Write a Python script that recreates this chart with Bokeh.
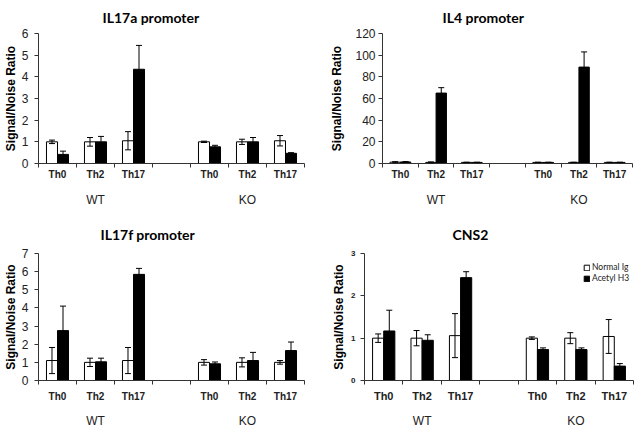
from bokeh.plotting import figure
from bokeh.models import (Range1d, FixedTicker, Whisker, TeeHead, LinearAxis,
                          ColumnDataSource, Legend, LegendItem)
from bokeh.layouts import row, column
from bokeh.embed import file_html
from bokeh.resources import INLINE

# ---------------- data ----------------
categories = ["Th0", "Th2", "Th17", "Th0", "Th2", "Th17"]
slots = [0, 1, 2, 4, 5, 6]
groups = ["WT", "KO"]
group_slots = [1, 5]
series_names = ["Normal Ig", "Acetyl H3"]
y_axis_title = "Signal/Noise Ratio"

il17a_normal = [1.0, 1.0, 1.05, 1.0, 1.0, 1.05]
il17a_normal_err = [0.08, 0.2, 0.42, 0.03, 0.12, 0.24]
il17a_acetyl = [0.42, 1.0, 4.35, 0.77, 1.0, 0.47]
il17a_acetyl_err = [0.15, 0.25, 1.1, 0.07, 0.2, 0.03]
il17a_ticks = [0, 1, 2, 3, 4, 5, 6]

il4_normal = [1.2, 1.0, 1.0, 1.0, 1.0, 1.0]
il4_normal_err = [0.5, 0.5, 0.2, 0.2, 0.2, 0.2]
il4_acetyl = [1.4, 65.0, 1.0, 1.0, 89.0, 1.0]
il4_acetyl_err = [0.4, 5.0, 0.2, 0.2, 14.0, 0.2]
il4_ticks = [0, 20, 40, 60, 80, 100, 120]

il17f_normal = [1.1, 1.0, 1.1, 1.0, 1.0, 1.0]
il17f_normal_err = [0.72, 0.23, 0.72, 0.15, 0.25, 0.1]
il17f_acetyl = [2.75, 1.03, 5.85, 0.92, 1.1, 1.65]
il17f_acetyl_err = [1.35, 0.2, 0.33, 0.1, 0.45, 0.47]
il17f_ticks = [0, 1, 2, 3, 4, 5, 6, 7]

cns2_normal = [1.0, 1.0, 1.06, 1.0, 1.0, 1.04]
cns2_normal_err = [0.1, 0.18, 0.52, 0.03, 0.13, 0.4]
cns2_acetyl = [1.17, 0.95, 2.43, 0.73, 0.73, 0.34]
cns2_acetyl_err = [0.49, 0.13, 0.14, 0.04, 0.04, 0.06]
cns2_ticks = [0, 1, 2, 3]

ARIAL = "Liberation Sans"
CALIBRI = "Lato"
AXIS_COLOR = "#333333"
TEXT_COLOR = "#222222"
BAR_W = 0.29


def make_panel(title, normal, normal_err, acetyl, acetyl_err, yticks,
               width, height, borders, title_offset, title_standoff,
               tick_font, tick_style, tick_standoff, ylab_standoff,
               cat_font, cat_standoff, grp_standoff,
               legend=False, legend_loc=None):
    bl, br, bt, bb = borders
    p = figure(width=width, height=height, output_backend="svg",
               toolbar_location=None, tools="", title=title,
               x_range=Range1d(0, 7), y_range=Range1d(yticks[0], yticks[-1]),
               min_border_left=bl, min_border_right=br,
               min_border_top=bt, min_border_bottom=bb)
    xa = p.xaxis[0]
    ya = p.yaxis[0]
    p.outline_line_color = None
    p.xgrid.visible = False
    p.ygrid.visible = False
    p.background_fill_color = "white"
    p.border_fill_color = "white"

    p.title.align = "left"
    p.title.vertical_align = "top"
    p.title.offset = title_offset
    p.title.standoff = title_standoff
    p.title.text_font = CALIBRI
    p.title.text_font_style = "bold"
    p.title.text_font_size = "14px"
    p.title.text_color = "black"

    centers = [s + 0.5 for s in slots]
    # x axis: category labels at slot centres, tick marks at slot boundaries
    xa.axis_label = None
    xa.ticker = FixedTicker(ticks=centers, minor_ticks=list(range(8)))
    xa.major_label_overrides = {c: cat for c, cat in zip(centers, categories)}
    xa.major_tick_out = 0
    xa.major_tick_in = 0
    xa.minor_tick_out = 4
    xa.minor_tick_in = 0
    xa.axis_line_color = AXIS_COLOR
    xa.minor_tick_line_color = AXIS_COLOR
    xa.major_label_text_font = ARIAL
    xa.major_label_text_font_style = "bold"
    xa.major_label_text_font_size = cat_font
    xa.major_label_text_color = TEXT_COLOR
    xa.major_label_standoff = cat_standoff

    # second x axis carrying the group labels
    gcent = [s + 0.5 for s in group_slots]
    ga = LinearAxis(ticker=FixedTicker(ticks=gcent), axis_label=None,
                    major_label_overrides={c: g for c, g in zip(gcent, groups)},
                    axis_line_color=None, major_tick_line_color=None,
                    minor_tick_line_color=None, major_tick_out=0,
                    major_label_text_font=ARIAL,
                    major_label_text_font_size="12px",
                    major_label_text_color=TEXT_COLOR,
                    major_label_standoff=grp_standoff)
    p.add_layout(ga, "below")

    ya.ticker = FixedTicker(ticks=yticks)
    ya.major_tick_out = 4
    ya.major_tick_in = 0
    ya.minor_tick_line_color = None
    ya.axis_line_color = AXIS_COLOR
    ya.major_tick_line_color = AXIS_COLOR
    ya.major_label_text_font = ARIAL
    ya.major_label_text_font_size = tick_font
    ya.major_label_text_font_style = tick_style
    ya.major_label_text_color = TEXT_COLOR
    ya.major_label_standoff = tick_standoff
    ya.axis_label = y_axis_title
    ya.axis_label_text_font = ARIAL
    ya.axis_label_text_font_style = "bold"
    ya.axis_label_text_font_size = "12px"
    ya.axis_label_text_color = "black"
    ya.axis_label_standoff = ylab_standoff

    xn = [s + 0.5 - BAR_W / 2 for s in slots]
    xb = [s + 0.5 + BAR_W / 2 for s in slots]
    src_n = ColumnDataSource(dict(x=xn, top=normal,
                                  lower=[v - e for v, e in zip(normal, normal_err)],
                                  upper=[v + e for v, e in zip(normal, normal_err)]))
    src_b = ColumnDataSource(dict(x=xb, top=acetyl,
                                  lower=[v - e for v, e in zip(acetyl, acetyl_err)],
                                  upper=[v + e for v, e in zip(acetyl, acetyl_err)]))
    rn = p.vbar(x="x", top="top", width=BAR_W, source=src_n,
                fill_color="white", line_color="black", line_width=1)
    rb = p.vbar(x="x", top="top", width=BAR_W, source=src_b,
                fill_color="black", line_color="black", line_width=1)
    for src in (src_n, src_b):
        w = Whisker(base="x", lower="lower", upper="upper", source=src,
                    line_color="black", line_width=1, level="annotation",
                    upper_head=TeeHead(size=6, line_color="black", line_width=1),
                    lower_head=TeeHead(size=6, line_color="black", line_width=1))
        p.add_layout(w)

    if legend:
        lg = Legend(items=[LegendItem(label=series_names[0], renderers=[rn]),
                           LegendItem(label=series_names[1], renderers=[rb])],
                    location=legend_loc, orientation="vertical",
                    glyph_width=7, glyph_height=7, label_height=7,
                    label_standoff=2, spacing=1, padding=0, margin=0,
                    border_line_color=None, background_fill_alpha=0,
                    label_text_font=CALIBRI, label_text_font_size="8.5px",
                    label_text_color=TEXT_COLOR)
        p.add_layout(lg)
    return p


p1 = make_panel("IL17a promoter", il17a_normal, il17a_normal_err,
                il17a_acetyl, il17a_acetyl_err, il17a_ticks,
                320, 215, (38, 16, 33, 52), 64, 12,
                "12px", "normal", 6, 1, "10px", 1, 10)
p2 = make_panel("IL4 promoter", il4_normal, il4_normal_err,
                il4_acetyl, il4_acetyl_err, il4_ticks,
                319, 215, (62, 7, 33, 52), 60, 12,
                "12px", "normal", 3, 8, "10px", 1, 10)
p3 = make_panel("IL17f promoter", il17f_normal, il17f_normal_err,
                il17f_acetyl, il17f_acetyl_err, il17f_ticks,
                320, 215, (38, 16, 38, 46), 62, 17,
                "12px", "normal", 6, 1, "10px", 6, 9)
p4 = make_panel("CNS2", cns2_normal, cns2_normal_err,
                cns2_acetyl, cns2_acetyl_err, cns2_ticks,
                319, 215, (44, 6, 38, 46), 88, 17,
                "8px", "bold", 5, 2, "11px", 5, 9,
                legend=True, legend_loc=(219, 97))

layout = column(row(p1, p2), row(p3, p4))
open("out.html", "w").write(file_html(layout, INLINE))
